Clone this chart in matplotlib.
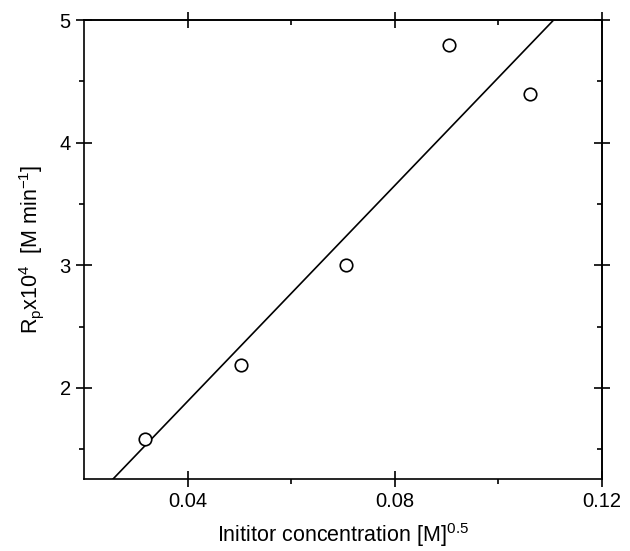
import matplotlib.pyplot as plt
import numpy as np

plt.rcParams['font.family'] = ['Liberation Sans', 'DejaVu Sans']
plt.rcParams['mathtext.default'] = 'regular'

# data
conc = [0.0318, 0.0503, 0.0706, 0.0905, 0.1060]
rate = [1.58, 2.19, 3.00, 4.80, 4.40]

# fitted line (slope, intercept) as drawn in the reference
fitSlope = 44.0
fitIntercept = 0.131

xTicks = [0.04, 0.08, 0.12]
yTicks = [2, 3, 4, 5]

fig = plt.figure(figsize=(6.3, 5.51), dpi=100)
ax = fig.add_axes([0.1333, 0.1307, 0.8223, 0.833])

xLine = np.linspace(0.02, 0.12, 200)
ax.plot(xLine, fitSlope * xLine + fitIntercept, color='black', lw=1.2)
ax.plot(conc, rate, 'o', ms=9, mfc='white', mec='black', mew=1.2, clip_on=False)

ax.set_xlim(0.02, 0.12)
ax.set_ylim(1.258, 5)
ax.set_xticks(xTicks)
ax.set_xticklabels(['0.04', '0.08', '0.12'])
ax.set_yticks(yTicks)
ax.set_xticks([0.06, 0.10], minor=True)
ax.set_yticks([1.5, 2.5, 3.5, 4.5], minor=True)

ax.tick_params(which='major', direction='inout', length=11, width=1.2, labelsize=14.5, pad=4)
ax.tick_params(which='minor', direction='out', length=3.5, width=1.2)

# mirrored axes: top and right (minor ticks point inward there)
top = ax.secondary_xaxis('top')
top.set_xticks(xTicks)
top.set_xticks([0.06, 0.10], minor=True)
top.tick_params(which='major', direction='inout', length=11, width=1.2, labeltop=False)
top.tick_params(which='minor', direction='in', length=3.5, width=1.2)
right = ax.secondary_yaxis('right')
right.set_yticks(yTicks)
right.set_yticks([1.5, 2.5, 3.5, 4.5], minor=True)
right.tick_params(which='major', direction='inout', length=11, width=1.2, labelright=False)
right.tick_params(which='minor', direction='in', length=3.5, width=1.2)

for sp in ax.spines.values():
    sp.set_linewidth(1.2)
top.spines['top'].set_linewidth(1.2)
right.spines['right'].set_linewidth(1.2)

ax.set_xlabel('Inititor concentration [M]$^{0.5}$', fontsize=15.5, labelpad=7)
ax.set_ylabel('R$_p$x10$^4$  [M min$^{-1}$]', fontsize=15.5, labelpad=10)

fig.savefig('out.png', dpi=100)
